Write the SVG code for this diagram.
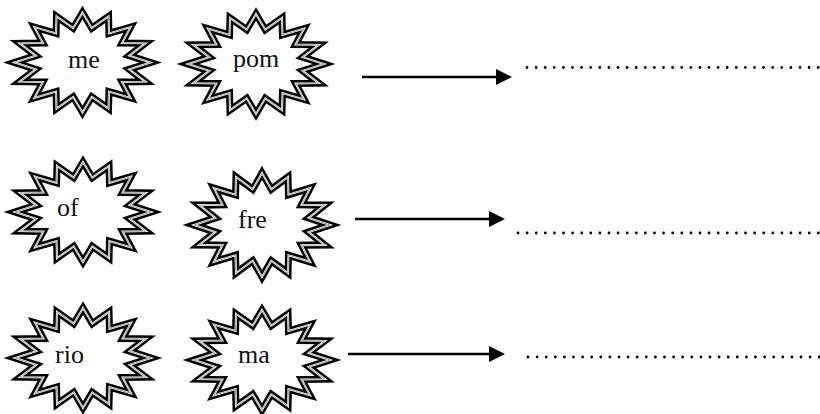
<svg xmlns="http://www.w3.org/2000/svg" xmlns:xlink="http://www.w3.org/1999/xlink" width="820" height="414" viewBox="0 0 820 414">
<style>
.s1{fill:#fff;stroke:#000;stroke-width:7;stroke-linejoin:miter;stroke-miterlimit:12}
.s2{fill:none;stroke:#fff;stroke-width:2;stroke-linejoin:miter;stroke-miterlimit:12}
.s3{fill:none;stroke:#999;stroke-width:0.9;stroke-linejoin:miter;stroke-miterlimit:12}
.t{font-family:"Liberation Serif","Times New Roman",serif;font-size:26px;fill:#111}
.arr{stroke:#000;stroke-width:2.4;fill:none}
.dot{stroke:#000;stroke-width:2.8;stroke-linecap:round;stroke-dasharray:0 9.1;fill:none}
</style>
<defs>
<path id="star" d="M0,-50 L9.29,-34.33 L26.03,-46.19 L26.45,-29.10 L48.08,-35.35 L39.58,-19.45 L62.82,-19.13 L46.69,-6.83 L68,0 L46.69,6.83 L62.82,19.13 L39.58,19.45 L48.08,35.35 L26.45,29.10 L26.03,46.19 L9.29,34.33 L0,50 L-9.29,34.33 L-26.03,46.19 L-26.45,29.10 L-48.08,35.35 L-39.58,19.45 L-62.82,19.13 L-46.69,6.83 L-68,0 L-46.69,-6.83 L-62.82,-19.13 L-39.58,-19.45 L-48.08,-35.35 L-26.45,-29.10 L-26.03,-46.19 L-9.29,-34.33 Z"/>
<g id="seal">
<use xlink:href="#star" class="s1"/>
<use xlink:href="#star" class="s2"/>
<use xlink:href="#star" class="s3"/>
</g>
<marker id="ah" markerUnits="userSpaceOnUse" markerWidth="17" markerHeight="17" refX="0" refY="8" orient="auto" viewBox="0 0 17 16">
<path d="M0,0 L16,8 L0,16 Z" fill="#000"/>
</marker>
</defs>
<g id="node-me"><use xlink:href="#seal" transform="translate(82.5,62.5)"/><text class="t" x="68" y="68">me</text></g>
<g id="node-pom"><use xlink:href="#seal" transform="translate(256,64)"/><text class="t" x="233" y="67">pom</text></g>
<g id="node-of"><use xlink:href="#seal" transform="translate(83,212)"/><text class="t" x="57" y="216">of</text></g>
<g id="node-fre"><use xlink:href="#seal" transform="translate(262,225) scale(1,1.04)"/><text class="t" x="238" y="228">fre</text></g>
<g id="node-rio"><use xlink:href="#seal" transform="translate(83,358)"/><text class="t" x="55" y="363">rio</text></g>
<g id="node-ma"><use xlink:href="#seal" transform="translate(262,360)"/><text class="t" x="238" y="363">ma</text></g>
<g id="connectors">
<line class="arr" x1="362" y1="77" x2="496" y2="77" marker-end="url(#ah)"/>
<line class="arr" x1="355" y1="219" x2="489" y2="219" marker-end="url(#ah)"/>
<line class="arr" x1="348" y1="354" x2="489" y2="354" marker-end="url(#ah)"/>
<line class="dot" x1="527" y1="67.5" x2="820" y2="67.5"/>
<line class="dot" x1="518" y1="233" x2="820" y2="233"/>
<line class="dot" x1="528" y1="357" x2="820" y2="357"/>
</g>
</svg>
